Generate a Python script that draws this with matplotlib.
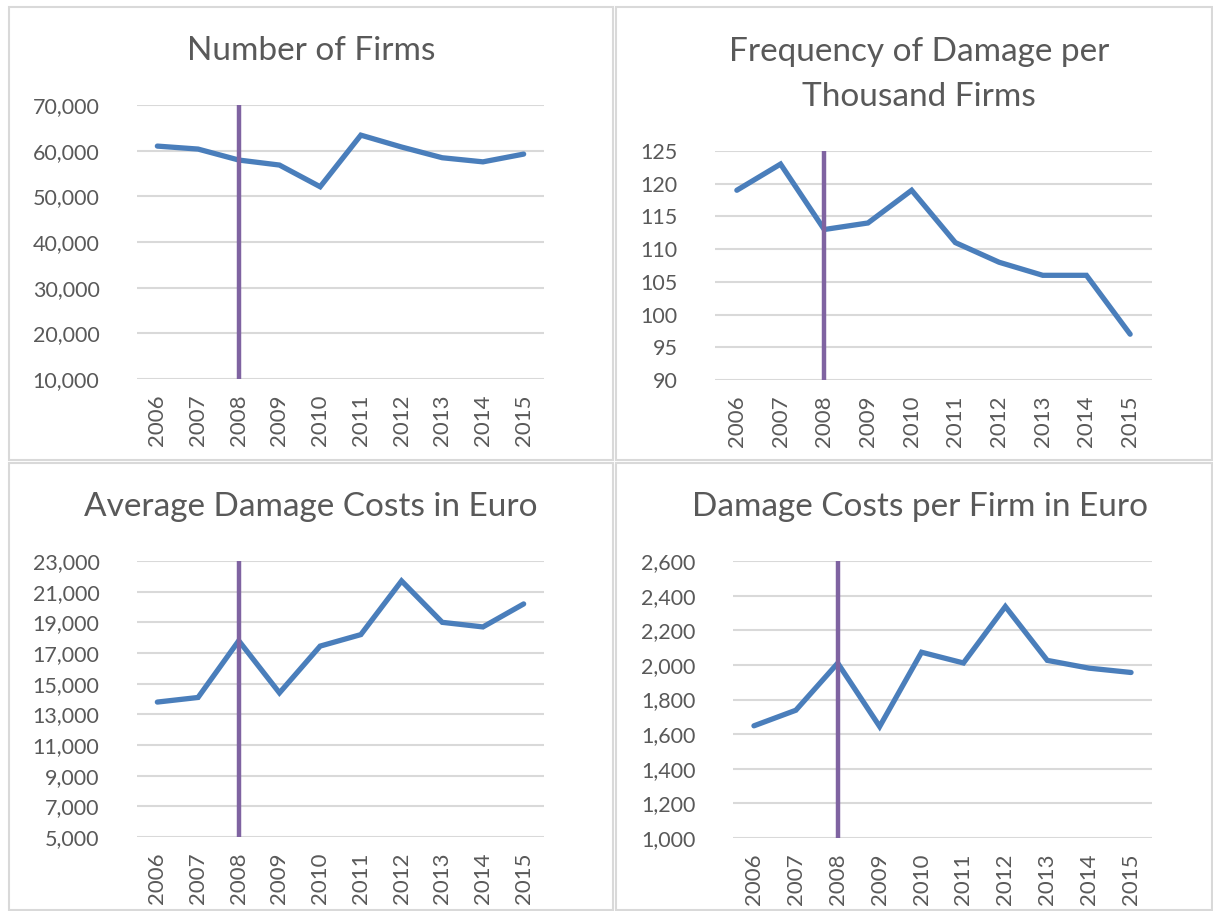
import matplotlib
matplotlib.use('Agg')
import numpy as np
import matplotlib.pyplot as plt
from matplotlib.patches import Rectangle
from matplotlib.ticker import FuncFormatter

plt.rcParams['font.family'] = ['Lato', 'DejaVu Sans']

years = [2006, 2007, 2008, 2009, 2010, 2011, 2012, 2013, 2014, 2015]
crisis_year = 2008

number_of_firms = [61000, 60350, 57950, 56850, 52100, 63400, 60800, 58450, 57550, 59250]
damage_frequency = [119, 123, 113, 114, 119, 111, 108, 106, 106, 97]
avg_damage_costs = [13800, 14100, 17800, 14400, 17450, 18200, 21700, 19000, 18700, 20200]
costs_per_firm = [1648, 1738, 2010, 1644, 2073, 2011, 2337, 2026, 1981, 1956]

W, H = 1213, 911
BLUE = '#4A7EBB'
PURPLE = '#7F63A1'
GRID = '#D9D9D9'
TEXT = '#595959'

fig = plt.figure(figsize=(W / 100, H / 100), dpi=100)


def px_axes(x0, y0, x1, y1):
    return fig.add_axes([x0 / W, 1 - y1 / H, (x1 - x0) / W, (y1 - y0) / H])


def box(x0, y0, x1, y1):
    fig.add_artist(Rectangle((x0 / W, 1 - y1 / H), (x1 - x0) / W, (y1 - y0) / H,
                             transform=fig.transFigure, fill=False,
                             edgecolor=GRID, linewidth=1.5))


def panel(pos, values, lo, hi, step, title_lines, title_x, title_ys, thousands=True):
    ax = px_axes(*pos)
    idx = range(len(years))
    ax.axvline(years.index(crisis_year), color=PURPLE, lw=3.2, zorder=4,
               solid_capstyle='round')
    ax.plot(idx, values, color=BLUE, lw=3.8, solid_capstyle='round',
            solid_joinstyle='miter', zorder=3, clip_on=False)
    ax.set_xlim(-0.5, len(years) - 0.5)
    ax.set_ylim(lo, hi)
    ax.set_yticks(np.arange(lo, hi + step / 2, step))
    if thousands:
        ax.yaxis.set_major_formatter(FuncFormatter(lambda v, p: '{:,.0f}'.format(v)))
    ax.set_xticks(list(idx))
    ax.set_xticklabels([str(y) for y in years], rotation=90)
    ax.grid(axis='y', color=GRID, lw=1.5, zorder=0)
    ax.set_axisbelow(True)
    for s in ax.spines.values():
        s.set_visible(False)
    ax.tick_params(axis='y', length=0, pad=27, labelsize=15.5, labelcolor=TEXT)
    ax.tick_params(axis='x', length=0, pad=11, labelsize=16, labelcolor=TEXT)
    for line, ty in zip(title_lines, title_ys):
        fig.text(title_x / W, 1 - ty / H, line, ha='center', va='center',
                 fontsize=24, color=TEXT)
    return ax


box(9, 7, 613, 460)
box(616, 7, 1212, 460)
box(9, 463, 613, 910)
box(616, 463, 1212, 910)

panel((137, 105, 544, 379), number_of_firms, 10000, 70000, 10000,
      ['Number of Firms'], 311, [51])
panel((715, 151, 1152, 380), damage_frequency, 90, 125, 5,
      ['Frequency of Damage per', 'Thousand Firms'], 919, [52, 97], thousands=False)
panel((137, 561, 544, 837), avg_damage_costs, 5000, 23000, 2000,
      ['Average Damage Costs in Euro'], 311, [507])
panel((733, 561, 1152, 838), costs_per_firm, 1000, 2600, 200,
      ['Damage Costs per Firm in Euro'], 920, [507])

fig.savefig('out.png', dpi=100)
